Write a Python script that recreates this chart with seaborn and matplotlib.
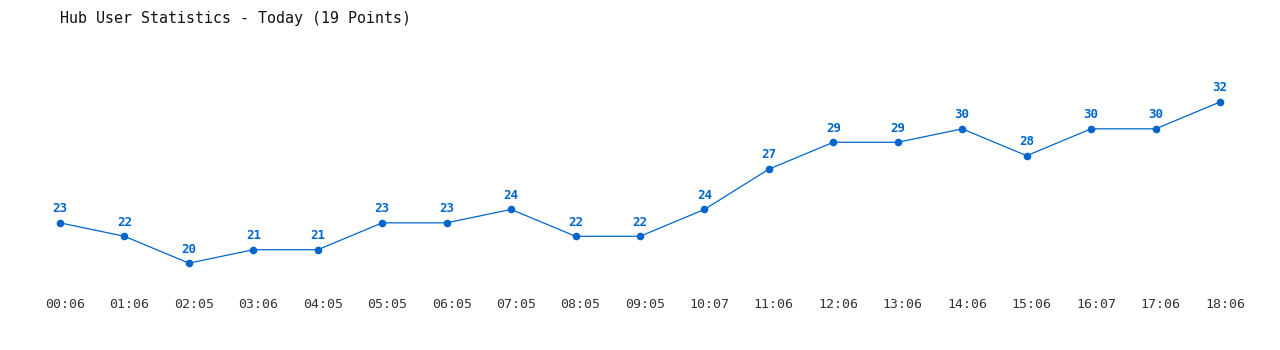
import matplotlib
matplotlib.use("Agg")
import matplotlib.pyplot as plt
import matplotlib.transforms as mtransforms
import seaborn as sns
import pandas as pd

times = ["00:06", "01:06", "02:05", "03:06", "04:05", "05:05", "06:05", "07:05", "08:05",
         "09:05", "10:07", "11:06", "12:06", "13:06", "14:06", "15:06", "16:07", "17:06", "18:06"]
users = [23, 22, 20, 21, 21, 23, 23, 24, 22, 22, 24, 27, 29, 29, 30, 28, 30, 30, 32]

df = pd.DataFrame({"idx": range(len(times)), "users": users})

sns.set_theme(style="white")
plt.rcParams['font.family'] = ['DejaVu Sans Mono']

W, H = 1280, 350
fig = plt.figure(figsize=(W / 100, H / 100), dpi=100)
ax = fig.add_axes([60 / W, 60 / H, 1160 / W, (290 - 61.7) / H])

color = "#0066cc"
sns.lineplot(data=df, x="idx", y="users", ax=ax, color=color, linewidth=0.9,
             marker="o", markersize=5.5, markeredgewidth=0, markerfacecolor=color,
             clip_on=False)

for i, v in zip(df["idx"], df["users"]):
    ax.annotate(str(v), (i, v), xytext=(0, 5.5), textcoords="offset points",
                ha="center", va="bottom", fontsize=9, fontweight="bold", color=color,
                annotation_clip=False)

ax.set_xlim(0, len(times) - 1)
ax.set_ylim(18, 35)
ax.set_xticks(range(len(times)))
ax.set_xticklabels(times, fontsize=9.5, color="#333333")
ax.set_yticks([])
ax.tick_params(axis="x", length=0, pad=6)
ax.set_xlabel("")
ax.set_ylabel("")
for s in ax.spines.values():
    s.set_visible(False)
ax.set_facecolor("white")

offset = mtransforms.ScaledTranslation(5 / 100, 0, fig.dpi_scale_trans)
for lbl in ax.get_xticklabels():
    lbl.set_transform(lbl.get_transform() + offset)

fig.text(60 / W, 1 - 18 / H, "Hub User Statistics - Today (19 Points)",
         fontsize=10.8, color="#111111", ha="left", va="center")

fig.savefig("out.png", dpi=100, facecolor="white")
